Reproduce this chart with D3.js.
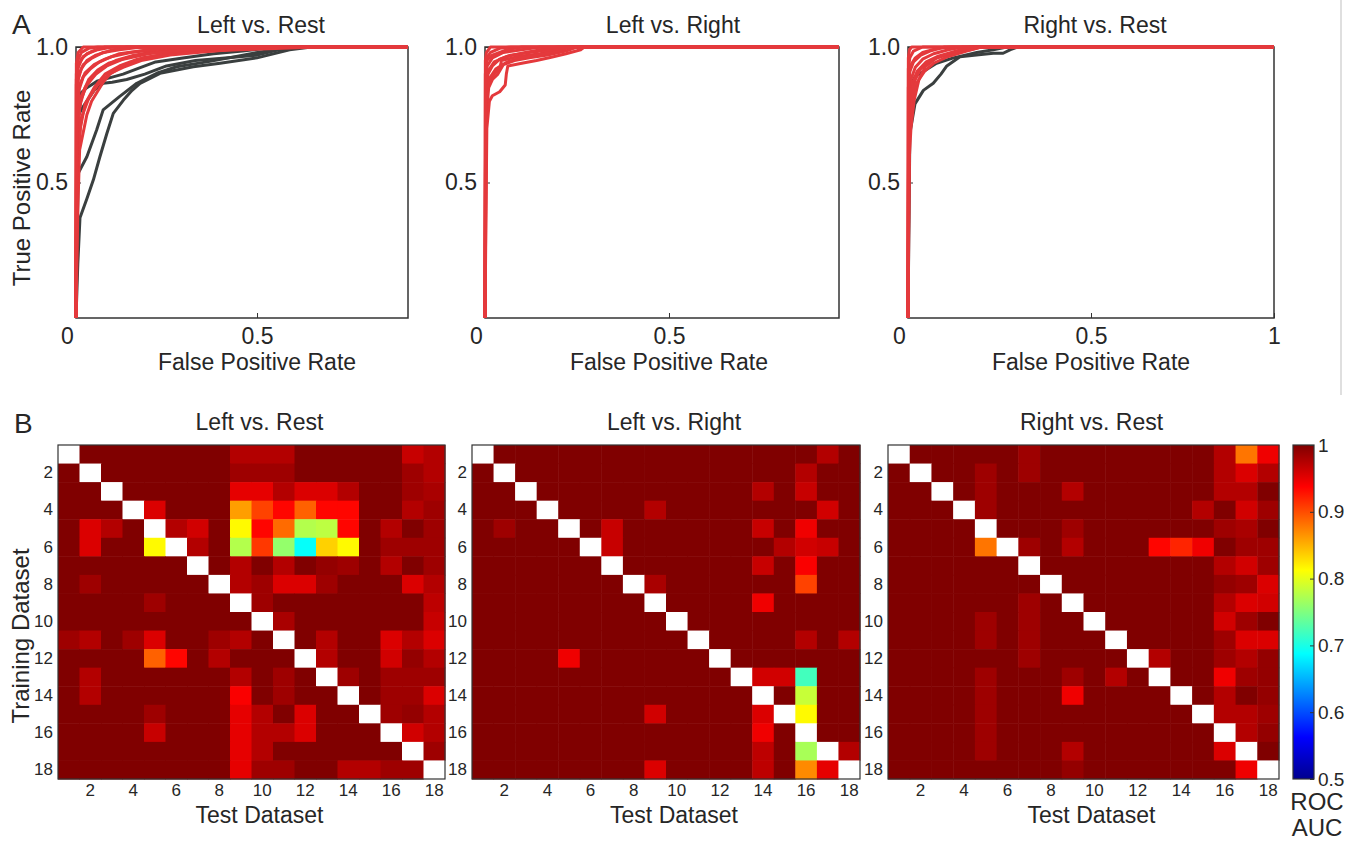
<!DOCTYPE html>
<html>
<head>
<meta charset="utf-8">
<title>ROC curves and cross-dataset ROC AUC</title>
<script src="https://d3js.org/d3.v7.min.js" charset="utf-8"></script>
<style>
body {
    margin: 0;
    background: #fff;
    font-family: Arial, "Liberation Sans", sans-serif;
}
text { fill: #262626; }
.tick line { stroke: #333; }
</style>
</head>
<body>
<script>
// ---------- data ----------
var panelTitles = ["Left vs. Rest", "Left vs. Right", "Right vs. Rest"];

// ROC curves as [false positive rate, true positive rate]
var leftRestRed = [
  [[0,0],[0.005,0.4],[0.01,0.62],[0.03,0.75],[0.043,0.8],[0.075,0.87],[0.094,0.9],[0.13,0.93],[0.185,0.96],[0.28,0.98],[0.45,0.99],[0.67,1],[1,1]],
  [[0,0],[0.004,0.55],[0.012,0.7],[0.025,0.79],[0.05,0.85],[0.08,0.9],[0.12,0.93],[0.17,0.955],[0.25,0.975],[0.4,0.99],[0.55,1],[1,1]],
  [[0,0],[0.004,0.6],[0.015,0.74],[0.035,0.81],[0.06,0.86],[0.09,0.9],[0.13,0.925],[0.18,0.95],[0.26,0.97],[0.38,0.985],[0.5,1],[1,1]],
  [[0,0],[0.003,0.7],[0.015,0.82],[0.035,0.88],[0.06,0.915],[0.09,0.94],[0.14,0.96],[0.2,0.98],[0.3,0.99],[0.48,1],[1,1]],
  [[0,0],[0.003,0.65],[0.01,0.78],[0.025,0.85],[0.045,0.89],[0.07,0.92],[0.11,0.95],[0.16,0.97],[0.24,0.985],[0.35,1],[1,1]],
  [[0,0],[0.003,0.68],[0.012,0.8],[0.03,0.86],[0.055,0.9],[0.085,0.93],[0.13,0.955],[0.2,0.975],[0.3,0.99],[0.42,1],[1,1]],
  [[0,0],[0.002,0.72],[0.008,0.84],[0.02,0.89],[0.04,0.92],[0.065,0.945],[0.1,0.965],[0.15,0.98],[0.25,0.995],[0.3,1],[1,1]],
  [[0,0],[0.002,0.76],[0.01,0.86],[0.025,0.905],[0.05,0.935],[0.08,0.955],[0.12,0.975],[0.2,0.99],[0.26,1],[1,1]],
  [[0,0],[0.002,0.8],[0.006,0.88],[0.015,0.92],[0.03,0.95],[0.055,0.97],[0.09,0.985],[0.14,1],[1,1]],
  [[0,0],[0.002,0.83],[0.008,0.9],[0.02,0.935],[0.045,0.96],[0.075,0.98],[0.12,0.99],[0.18,1],[1,1]],
  [[0,0],[0.001,0.86],[0.005,0.92],[0.015,0.955],[0.03,0.975],[0.06,0.99],[0.1,1],[1,1]],
  [[0,0],[0.001,0.88],[0.006,0.93],[0.02,0.965],[0.045,0.985],[0.08,1],[1,1]],
  [[0,0],[0.001,0.9],[0.005,0.95],[0.015,0.98],[0.035,0.995],[0.06,1],[1,1]],
  [[0,0],[0.001,0.94],[0.006,0.98],[0.02,1],[1,1]]
];
var leftRestDark = [
  [[0,0],[0.005,0.2],[0.011,0.37],[0.03,0.44],[0.048,0.51],[0.066,0.595],[0.085,0.68],[0.103,0.755],[0.131,0.804],[0.155,0.84],[0.177,0.866],[0.232,0.903],[0.324,0.927],[0.398,0.94],[0.5,0.96],[0.59,0.99],[0.65,1],[1,1]],
  [[0,0],[0.006,0.534],[0.03,0.595],[0.057,0.694],[0.075,0.768],[0.12,0.817],[0.168,0.866],[0.223,0.903],[0.278,0.927],[0.37,0.947],[0.49,0.977],[0.6,1],[1,1]],
  [[0,0],[0.004,0.74],[0.015,0.77],[0.03,0.8],[0.05,0.84],[0.075,0.866],[0.1,0.87],[0.14,0.88],[0.19,0.9],[0.25,0.93],[0.33,0.95],[0.42,0.96],[0.5,0.97],[0.56,0.99],[0.62,1],[1,1]],
  [[0,0],[0.005,0.82],[0.03,0.85],[0.06,0.875],[0.09,0.885],[0.13,0.9],[0.17,0.92],[0.22,0.945],[0.3,0.96],[0.38,0.975],[0.46,0.985],[0.55,1],[1,1]]
];
var leftRightRed = [
  [[0,0],[0.005,0.7],[0.012,0.8],[0.02,0.82],[0.04,0.835],[0.055,0.86],[0.058,0.9],[0.062,0.93],[0.1,0.94],[0.14,0.95],[0.18,0.962],[0.22,0.975],[0.26,0.99],[0.27,1],[1,1]],
  [[0,0],[0.004,0.75],[0.01,0.85],[0.02,0.88],[0.035,0.9],[0.05,0.935],[0.08,0.95],[0.12,0.96],[0.17,0.97],[0.22,0.985],[0.25,1],[1,1]],
  [[0,0],[0.002,0.82],[0.008,0.87],[0.025,0.9],[0.04,0.92],[0.045,0.95],[0.09,0.965],[0.15,0.975],[0.2,0.99],[0.24,1],[1,1]],
  [[0,0],[0.003,0.78],[0.01,0.88],[0.03,0.92],[0.06,0.945],[0.1,0.96],[0.16,0.975],[0.21,0.99],[0.23,1],[1,1]],
  [[0,0],[0.003,0.8],[0.008,0.9],[0.02,0.93],[0.04,0.955],[0.07,0.97],[0.12,0.98],[0.18,0.99],[0.22,1],[1,1]],
  [[0,0],[0.002,0.84],[0.008,0.91],[0.025,0.945],[0.06,0.965],[0.11,0.98],[0.17,0.995],[0.2,1],[1,1]],
  [[0,0],[0.002,0.86],[0.006,0.93],[0.02,0.96],[0.05,0.98],[0.1,0.99],[0.15,1],[1,1]],
  [[0,0],[0.001,0.9],[0.005,0.95],[0.02,0.97],[0.06,0.99],[0.1,1],[1,1]],
  [[0,0],[0.002,0.9],[0.005,0.96],[0.015,0.98],[0.04,0.995],[0.07,1],[1,1]],
  [[0,0],[0.001,0.95],[0.004,0.98],[0.015,1],[1,1]]
];
var leftRightDark = [];
var rightRestRed = [
  [[0,0],[0.004,0.6],[0.008,0.7],[0.017,0.805],[0.03,0.88],[0.047,0.927],[0.078,0.96],[0.124,0.977],[0.17,0.99],[0.2,1],[1,1]],
  [[0,0],[0.003,0.68],[0.012,0.8],[0.025,0.87],[0.045,0.91],[0.07,0.94],[0.11,0.965],[0.16,0.985],[0.2,1],[1,1]],
  [[0,0],[0.003,0.72],[0.01,0.82],[0.02,0.88],[0.035,0.92],[0.06,0.95],[0.1,0.97],[0.15,0.985],[0.18,1],[1,1]],
  [[0,0],[0.002,0.78],[0.01,0.86],[0.025,0.91],[0.05,0.945],[0.08,0.965],[0.13,0.985],[0.17,1],[1,1]],
  [[0,0],[0.002,0.8],[0.008,0.88],[0.02,0.925],[0.04,0.955],[0.07,0.975],[0.11,0.99],[0.15,1],[1,1]],
  [[0,0],[0.001,0.85],[0.005,0.91],[0.015,0.945],[0.035,0.97],[0.06,0.985],[0.1,1],[1,1]],
  [[0,0],[0.002,0.87],[0.006,0.93],[0.02,0.96],[0.04,0.98],[0.08,0.995],[0.12,1],[1,1]],
  [[0,0],[0.001,0.92],[0.005,0.96],[0.015,0.985],[0.04,1],[1,1]],
  [[0,0],[0.001,0.96],[0.004,0.99],[0.01,1],[1,1]]
];
var rightRestDark = [
  [[0,0],[0.003,0.4],[0.005,0.68],[0.019,0.79],[0.042,0.84],[0.069,0.866],[0.09,0.9],[0.106,0.93],[0.142,0.964],[0.2,0.972],[0.233,0.977],[0.26,0.977],[0.28,0.99],[0.3,1],[1,1]],
  [[0,0],[0.004,0.85],[0.019,0.89],[0.042,0.91],[0.078,0.94],[0.124,0.96],[0.188,0.98],[0.233,0.99],[0.27,1],[1,1]]
];

var fprTicks = [0, 0.5, 1];
var tprTicks = [0.5, 1.0];

// ROC AUC, rows = training dataset, columns = test dataset (null = same dataset)
var datasets = d3.range(1, 19);
var datasetTicks = [2, 4, 6, 8, 10, 12, 14, 16, 18];
var leftRestAuc = [
  [null,1,1,1,1,1,1,1,.975,.975,.975,1,1,1,1,1,.965,.975],
  [1,null,1,1,1,1,1,1,.985,.985,.985,1,1,1,1,1,.985,.975],
  [1,1,null,1,1,1,1,1,.95,.95,.975,.955,.955,.975,1,1,.985,.98],
  [1,1,1,null,.955,1,1,1,.86,.905,.935,.89,.935,.935,1,1,.975,.985],
  [1,.955,.975,1,null,.975,.96,1,.815,.935,.885,.775,.78,.935,1,.975,1,.985],
  [1,.955,1,1,.815,null,.975,1,.775,.91,.76,.69,.835,.815,1,.985,.985,.985],
  [1,1,1,1,1,1,null,1,.975,1,.975,1,.99,.985,1,.975,1,.985],
  [1,.985,1,1,1,1,1,null,.975,.985,.955,.955,.985,1,1,1,.955,.975],
  [1,1,1,1,.985,1,1,1,null,.985,1,1,1,1,1,1,1,.97],
  [1,1,1,1,1,1,1,1,1,null,.98,1,1,1,1,1,1,.965],
  [.985,.975,1,.985,.955,1,1,.985,.975,1,null,1,.975,1,1,.955,.975,.955],
  [1,1,1,1,.89,.935,1,.975,1,1,1,null,.975,1,1,.96,.99,.975],
  [1,.975,1,1,1,1,1,1,.975,1,.985,1,null,.985,1,.985,.985,.985],
  [1,.975,1,1,1,1,1,1,.94,1,.985,1,1,null,1,.985,.985,.955],
  [1,1,1,1,.985,1,1,1,.95,.975,1,.955,1,1,null,.985,.99,.975],
  [1,1,1,1,.965,1,1,1,.95,.975,.975,.955,1,1,1,null,.96,.975],
  [1,1,1,1,1,1,1,1,.95,.975,1,1,1,1,1,1,null,.985],
  [1,1,1,1,1,1,1,1,.95,.985,.985,1,1,.975,.975,.985,.985,null]
];
var leftRightAuc = [
  [null,1,1,1,1,1,1,1,1,1,1,1,1,1,1,1,.975,1],
  [1,null,1,1,1,1,1,1,1,1,1,1,1,1,1,.975,1,1],
  [1,1,null,1,1,1,1,1,1,1,1,1,1,.975,1,.965,1,1],
  [1,1,1,null,1,1,1,1,.975,1,1,1,1,1,1,1,.96,1],
  [1,.985,1,1,null,1,.965,1,1,1,1,1,1,.965,1,.945,1,1],
  [1,1,1,1,1,null,.965,1,1,1,1,1,1,1,.975,.96,.965,1],
  [1,1,1,1,1,1,null,1,1,1,1,1,1,.965,1,.94,1,1],
  [1,1,1,1,1,1,1,null,.98,1,1,1,1,1,1,.905,1,1],
  [1,1,1,1,1,1,1,1,null,1,1,1,1,.945,1,1,1,1],
  [1,1,1,1,1,1,1,1,1,null,1,1,1,1,1,1,1,1],
  [1,1,1,1,1,1,1,1,1,1,null,1,1,1,1,.975,1,.975],
  [1,1,1,1,.945,1,1,1,1,1,1,null,1,1,1,1,1,1],
  [1,1,1,1,1,1,1,1,1,1,1,1,null,.96,.96,.72,1,1],
  [1,1,1,1,1,1,1,1,1,1,1,1,1,null,1,.785,1,1],
  [1,1,1,1,1,1,1,1,.96,1,1,1,1,.955,null,.815,1,1],
  [1,1,1,1,1,1,1,1,1,1,1,1,1,.945,1,null,1,1],
  [1,1,1,1,1,1,1,1,1,1,1,1,1,.97,1,.77,null,.975],
  [1,1,1,1,1,1,1,1,.955,1,1,1,1,.97,1,.87,.95,null]
];
var rightRestAuc = [
  [null,1,1,1,1,1,.985,1,1,1,1,1,1,1,1,.975,.88,.945],
  [1,null,1,1,.985,1,.985,1,1,1,1,1,1,1,1,.975,.955,.975],
  [1,1,null,1,.985,1,1,1,.975,1,1,1,1,1,1,.975,.975,1],
  [1,1,1,null,.985,1,1,1,1,1,1,1,1,1,.975,1,.96,.985],
  [1,1,1,1,null,1,1,1,.985,1,1,1,1,1,1,.985,.98,1],
  [1,1,1,1,.88,null,.985,1,.975,1,1,1,.935,.92,.945,1,.985,.985],
  [1,1,1,1,1,1,null,1,1,1,1,1,1,1,1,.975,.96,.985],
  [1,1,1,1,1,1,1,null,1,1,1,1,1,1,1,.99,.985,.955],
  [1,1,1,1,1,1,.985,1,null,1,1,1,1,1,1,.975,.955,.96],
  [1,1,1,1,.985,1,.985,1,1,null,1,1,1,1,1,.96,.985,1],
  [1,1,1,1,.985,1,.985,1,1,1,null,1,1,1,1,.985,.955,.955],
  [1,1,1,1,1,1,.985,1,1,1,1,null,.975,1,1,.985,.975,.99],
  [1,1,1,1,.985,1,1,1,.985,1,.975,1,null,1,1,.945,.985,.99],
  [1,1,1,1,.985,1,1,1,.945,1,1,1,1,null,1,.975,1,.99],
  [1,1,1,1,.985,1,1,1,1,1,1,1,1,1,null,.975,.975,.985],
  [1,1,1,1,.985,1,1,1,1,1,1,1,1,1,1,null,.975,.99],
  [1,1,1,1,.985,1,1,1,.975,1,1,1,1,1,1,.955,null,1],
  [1,1,1,1,1,1,1,1,.99,1,1,1,1,1,1,1,.945,null]
];
var aucTicks = [0.5, 0.6, 0.7, 0.8, 0.9, 1];

// ---------- layout ----------
var width = 1356;
var height = 844;
var redLine = "#e4393c";
var darkLine = "#3a3f3f";

var svg = d3.select("body")
  .append("svg")
  .attr("width", width)
  .attr("height", height);

// MATLAB "jet" colour map over AUC 0.5 .. 1
var jet = d3.scaleLinear()
  .domain([0.5, 0.5625, 0.6875, 0.8125, 0.9375, 1])
  .range(["#00008f", "#0000ff", "#00ffff", "#ffff00", "#ff0000", "#800000"])
  .clamp(true);

// ---------- A: ROC curves ----------
var rocPanels = [
  {left: 76, right: 408, fprMax: 0.917, red: leftRestRed, dark: leftRestDark},
  {left: 485, right: 839, fprMax: 0.962, red: leftRightRed, dark: leftRightDark},
  {left: 908, right: 1274, fprMax: 1, red: rightRestRed, dark: rightRestDark}
];
var rocTop = 47, rocBottom = 318;

svg.append("text").attr("x", 12).attr("y", 34)
  .style("font-size", "28px").text("A");

rocPanels.forEach(function(p, i) {
  var x = d3.scaleLinear().domain([0, p.fprMax]).range([p.left, p.right]);
  var y = d3.scaleLinear().domain([0, 1]).range([rocBottom, rocTop]);
  var g = svg.append("g");

  g.append("rect")
    .attr("x", p.left).attr("y", rocTop)
    .attr("width", p.right - p.left).attr("height", rocBottom - rocTop)
    .attr("fill", "none").attr("stroke", "#333").attr("stroke-width", 1.5);

  var xAxis = g.append("g")
    .attr("transform", "translate(0," + rocBottom + ")")
    .call(d3.axisBottom(x)
      .tickValues(fprTicks.filter(function(v) { return v <= p.fprMax; }))
      .tickFormat(function(v) { return v == 0.5 ? "0.5" : d3.format("d")(v); })
      .tickSizeInner(-5).tickSizeOuter(0).tickPadding(10));
  xAxis.select(".domain").remove();
  xAxis.selectAll("text").style("font-size", "23px")
    .attr("dx", function(v) { return v == 0 ? -9 : 0; });

  var yAxis = g.append("g")
    .attr("transform", "translate(" + p.left + ",0)")
    .call(d3.axisLeft(y).tickValues(tprTicks).tickFormat(d3.format(".1f"))
      .tickSizeInner(-5).tickSizeOuter(0).tickPadding(8));
  yAxis.select(".domain").remove();
  yAxis.selectAll("text").style("font-size", "23px");

  var clipId = "clip" + i;
  svg.append("clipPath").attr("id", clipId)
    .append("rect")
    .attr("x", p.left - 3).attr("y", rocTop - 3)
    .attr("width", p.right - p.left + 3).attr("height", rocBottom - rocTop + 6);

  var line = d3.line()
    .x(function(d) { return x(d[0]); })
    .y(function(d) { return y(d[1]); });

  var curves = g.append("g").attr("clip-path", "url(#" + clipId + ")");
  curves.selectAll(".dark")
    .data(p.dark)
    .enter()
    .append("path")
    .attr("class", "dark")
    .attr("fill", "none")
    .attr("stroke", darkLine)
    .attr("stroke-width", 3)
    .attr("stroke-linejoin", "round")
    .attr("d", line);
  curves.selectAll(".red")
    .data(p.red)
    .enter()
    .append("path")
    .attr("class", "red")
    .attr("fill", "none")
    .attr("stroke", redLine)
    .attr("stroke-width", 3)
    .attr("stroke-linejoin", "round")
    .attr("d", line);

  g.append("text")
    .attr("x", x(0.5) + 4).attr("y", 33)
    .attr("text-anchor", "middle")
    .style("font-size", "23px")
    .text(panelTitles[i]);

  g.append("text")
    .attr("x", x(0.5)).attr("y", 370)
    .attr("text-anchor", "middle")
    .style("font-size", "23px")
    .text("False Positive Rate");
});

svg.append("text")
  .attr("transform", "translate(22,188) rotate(-90)")
  .attr("dy", "0.35em")
  .attr("text-anchor", "middle")
  .style("font-size", "24px")
  .text("True Positive Rate");

// faint frame line at the right of the top row
svg.append("line")
  .attr("x1", 1341).attr("x2", 1341).attr("y1", 0).attr("y2", 395)
  .attr("stroke", "#d4d4d4").attr("stroke-width", 1.5);

// ---------- B: cross-dataset AUC matrices ----------
var heatPanels = [
  {left: 58, right: 445, values: leftRestAuc},
  {left: 472, right: 860, values: leftRightAuc},
  {left: 888, right: 1279, values: rightRestAuc}
];
var heatTop = 445, heatBottom = 779;

svg.append("text").attr("x", 14).attr("y", 433)
  .style("font-size", "28px").text("B");

heatPanels.forEach(function(p, i) {
  var x = d3.scaleBand().domain(datasets).range([p.left, p.right]);
  var y = d3.scaleBand().domain(datasets).range([heatTop, heatBottom]);
  var g = svg.append("g");

  var cells = [];
  p.values.forEach(function(row, r) {
    row.forEach(function(v, c) {
      cells.push({train: datasets[r], test: datasets[c], auc: v});
    });
  });

  g.selectAll("rect.cell")
    .data(cells)
    .enter()
    .append("rect")
    .attr("class", "cell")
    .attr("x", function(d) { return x(d.test); })
    .attr("y", function(d) { return y(d.train); })
    .attr("width", x.bandwidth() + 0.5)
    .attr("height", y.bandwidth() + 0.5)
    .attr("fill", function(d) { return d.auc == null ? "#ffffff" : jet(d.auc); });

  g.append("rect")
    .attr("x", p.left).attr("y", heatTop)
    .attr("width", p.right - p.left).attr("height", heatBottom - heatTop)
    .attr("fill", "none").attr("stroke", "#333").attr("stroke-width", 1.2);

  var xAxis = g.append("g")
    .attr("transform", "translate(0," + heatBottom + ")")
    .call(d3.axisBottom(x).tickValues(datasetTicks).tickSize(0).tickPadding(5));
  xAxis.select(".domain").remove();
  xAxis.selectAll("text").style("font-size", "17px");

  var yAxis = g.append("g")
    .attr("transform", "translate(" + p.left + ",0)")
    .call(d3.axisLeft(y).tickValues(datasetTicks).tickSize(0).tickPadding(5));
  yAxis.select(".domain").remove();
  yAxis.selectAll("text").style("font-size", "17px");

  var mid = (p.left + p.right) / 2 + 8;
  g.append("text")
    .attr("x", mid).attr("y", 430)
    .attr("text-anchor", "middle")
    .style("font-size", "23px")
    .text(panelTitles[i]);

  g.append("text")
    .attr("x", mid).attr("y", 823)
    .attr("text-anchor", "middle")
    .style("font-size", "23px")
    .text("Test Dataset");
});

svg.append("text")
  .attr("transform", "translate(21,636) rotate(-90)")
  .attr("dy", "0.35em")
  .attr("text-anchor", "middle")
  .style("font-size", "24px")
  .text("Training Dataset");

// ---------- colour bar ----------
var barLeft = 1293, barWidth = 21;
var barScale = d3.scaleLinear().domain([0.5, 1]).range([heatBottom, heatTop]);

var grad = svg.append("defs").append("linearGradient")
  .attr("id", "jetGrad")
  .attr("x1", "0").attr("y1", "1").attr("x2", "0").attr("y2", "0");
grad.selectAll("stop")
  .data(jet.domain())
  .enter()
  .append("stop")
  .attr("offset", function(d) { return (d - 0.5) / 0.5; })
  .attr("stop-color", function(d) { return jet(d); });

svg.append("rect")
  .attr("x", barLeft).attr("y", heatTop)
  .attr("width", barWidth).attr("height", heatBottom - heatTop)
  .attr("fill", "url(#jetGrad)")
  .attr("stroke", "#333").attr("stroke-width", 1.2);

var barAxis = svg.append("g")
  .attr("transform", "translate(" + (barLeft + barWidth) + ",0)")
  .call(d3.axisRight(barScale).tickValues(aucTicks)
    .tickFormat(function(v) { return v == 1 ? "1" : d3.format(".1f")(v); })
    .tickSizeInner(-4).tickSizeOuter(0).tickPadding(4));
barAxis.select(".domain").remove();
barAxis.selectAll("text").style("font-size", "19px");

svg.append("text")
  .attr("x", 1317).attr("y", 802).attr("dy", "0.35em")
  .attr("text-anchor", "middle")
  .style("font-size", "24px")
  .text("ROC");
svg.append("text")
  .attr("x", 1317).attr("y", 828).attr("dy", "0.35em")
  .attr("text-anchor", "middle")
  .style("font-size", "24px")
  .text("AUC");
</script>
</body>
</html>
